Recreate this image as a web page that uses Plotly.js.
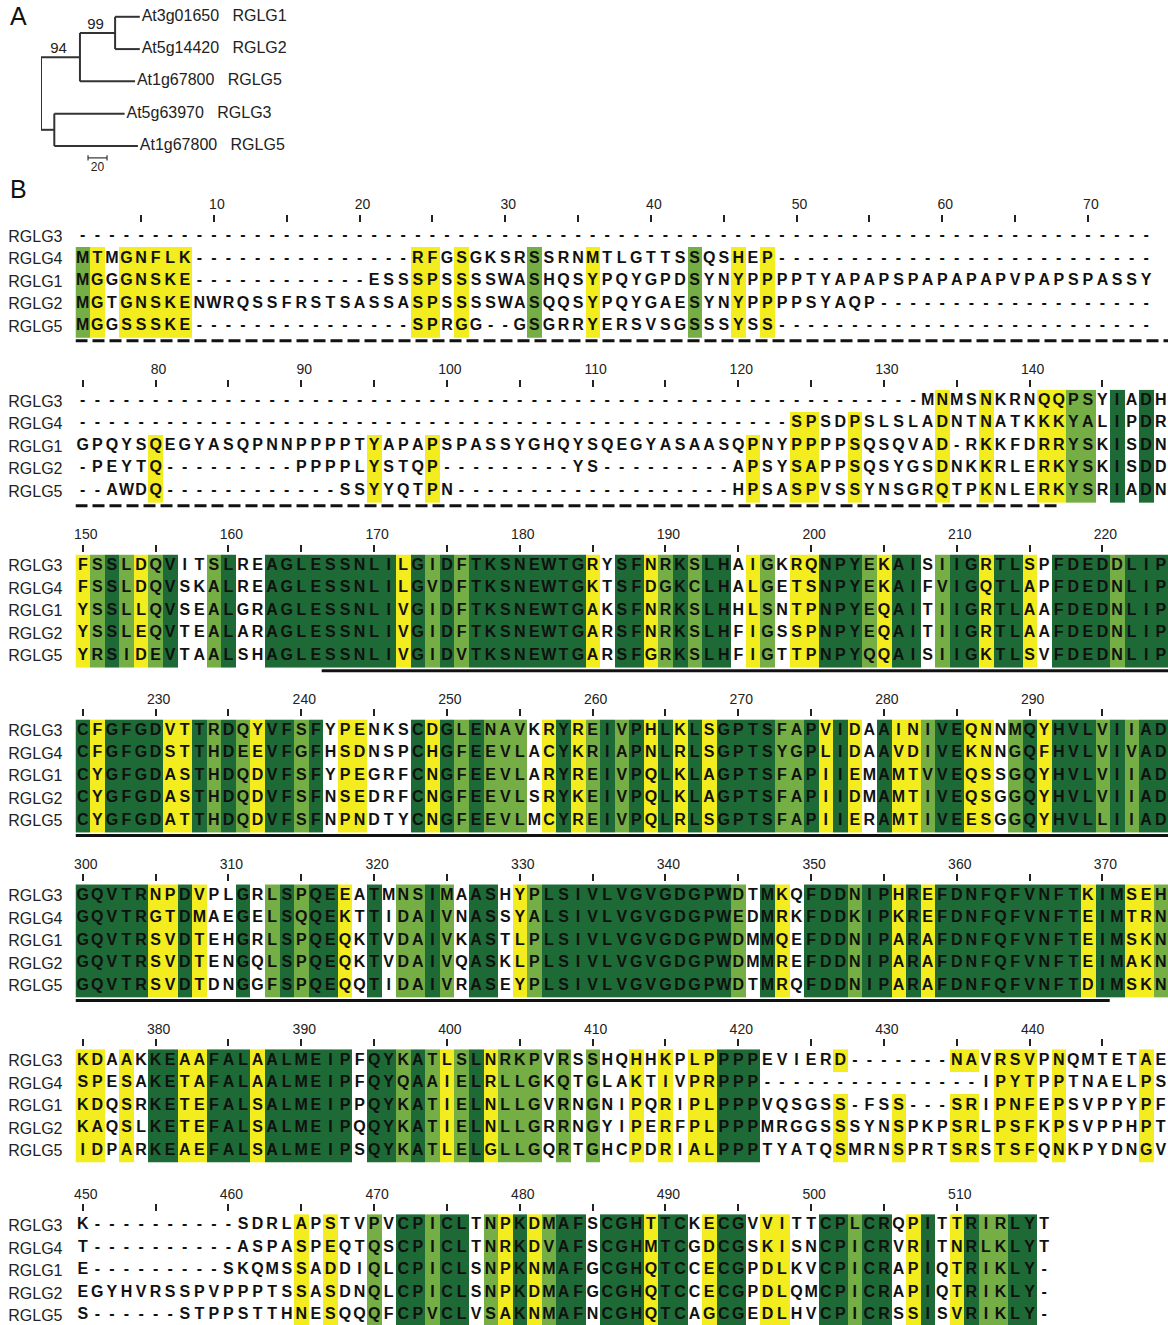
<!DOCTYPE html>
<html><head><meta charset="utf-8">
<script src="https://cdn.plot.ly/plotly-3.0.1.min.js"></script>
<style>html,body{margin:0;padding:0;background:#fff}#chart{width:1168px;height:1325px}</style>
</head><body><div id="chart"></div>
<script>
// ---------------- DATA ----------------
const seqNames = ["RGLG3", "RGLG4", "RGLG1", "RGLG2", "RGLG5"];
const blockStarts = [1, 75, 150, 225, 300, 375, 450];
const lastNumberedPos = 510;

const block1 = [
  "--------------------------------------------------------------------------",
  "MTMGNFLK---------------RFGSGKSRSSRNMTLGTTSSQSHEP--------------------------",
  "MGGGNSKE------------ESSSPSSSSWASHQSYPQYGPDSYNYPPPPTYAPAPSPAPAPAPVPAPSPASSY",
  "MGTGNSKENWRQSSFRSTSASSASPSSSSWASQQSYPQYGAESYNYPPPPSYAQP-------------------",
  "MGGSSSKE---------------SPRGG--GSGRRYERSVSGSSSYSS--------------------------"
];
const block2 = [
  "----------------------------------------------------------MNMSNKRNQQPSYIADH",
  "-------------------------------------------------SPSDPSLSLADNTNATKKKYALIPDR",
  "GPQYSQEGYASQPNNPPPPTYAPAPSPASSYGHQYSQEGYASAASQPNYPPPPSQSQVAD-RKKFDRRYSKISDN",
  "-PEYTQ---------PPPPLYSTQP---------YS---------APSYSAPPSQSYGSDNKKRLERKYSKISDD",
  "--AWDQ------------SSYYQTPN-------------------HPSASPVSSYNSGRQTPKNLERKYSRIADN"
];
const block3 = [
  "FSSLDQVITSLREAGLESSNLILGIDFTKSNEWTGRYSFNRKSLHAIGKRQNPYEKAISIIGRTLSPFDEDDLIP",
  "FSSLDQVSKALREAGLESSNLILGVDFTKSNEWTGKTSFDGKCLHALGETSNPYEKAIFVIGQTLAPFDEDNLIP",
  "YSSLLQVSEALGRAGLESSNLIVGIDFTKSNEWTGAKSFNRKSLHHLSNTPNPYEQAITIIGRTLAAFDEDNLIP",
  "YSSLEQVTEALARAGLESSNLIVGIDFTKSNEWTGARSFNRKSLHFIGSSPNPYEQAITIIGRTLAAFDEDNLIP",
  "YRSIDEVTAALSHAGLESSNLIVGIDVTKSNEWTGARSFGRKSLHFIGTTPNPYQQAISIIGKTLSVFDEDNLIP"
];
const block4 = [
  "CFGFGDVTTRDQYVFSFYPENKSCDGLENAVKRYREIVPHLKLSGPTSFAPVIDAAINIVEQNNMQYHVLVIIAD",
  "CFGFGDSTTHDEEVFGFHSDNSPCHGFEEVLACYKRIAPNLRLSGPTSYGPLIDAAVDIVEKNNGQFHVLVIVAD",
  "CYGFGDASTHDQDVFSFYPEGRFCNGFEEVLARYREIVPQLKLAGPTSFAPIIEMAMTVVEQSSGQYHVLVIIAD",
  "CYGFGDASTHDQDVFSFNSEDRFCNGFEEVLSRYKEIVPQLKLAGPTSFAPIIDMAMTIVEQSGGQYHVLVIIAD",
  "CYGFGDATTHDQDVFSFNPNDTYCNGFEEVLMCYREIVPQLRLSGPTSFAPIIERAMTIVEESGGQYHVLLIIAD"
];
const block5 = [
  "GQVTRNPDVPLGRLSPQEEATMNSIMAASHYPLSIVLVGVGDGPWDTMKQFDDNIPHREFDNFQFVNFTKIMSEH",
  "GQVTRGTDMAEGELSQQEKTTIDAIVNASSYALSIVLVGVGDGPWEDMRKFDDKIPKREFDNFQFVNFTEIMTRN",
  "GQVTRSVDTEHGRLSPQEQKTVDAIVKASTLPLSIVLVGVGDGPWDMMQEFDDNIPARAFDNFQFVNFTEIMSKN",
  "GQVTRSVDTENGQLSPQEQKTVDAIVQASKLPLSIVLVGVGDGPWDMMREFDDNIPARAFDNFQFVNFTEIMAKN",
  "GQVTRSVDTDNGGFSPQEQQTIDAIVRASEYPLSIVLVGVGDGPWDTMRQFDDNIPARAFDNFQFVNFTDIMSKN"
];
const block6 = [
  "KDAAKKEAAFALAALMEIPFQYKATLSLNRKPVRSSHQHHKPLPPPPEVIERD-------NAVRSVPNQMTETAE",
  "SPESAKETAFALAALMEIPFQYQAAIELRLLGKQTGLAKTIVPRPPP---------------IPYTPPTNAELPS",
  "KDQSRKETEFALSALMEIPPQYKATIELNLLGVRNGNIPQRIPLPPPVQSGSS-FSS---SRIPNFEPSVPPYPF",
  "KAQSLKETEFALSALMEIPQQYKATIELNLLGRRNGYIPERFPLPPPMRGGSSSYNSPKPSRLPSFKPSVPPHPT",
  "IDPARKEAEFALSALMEIPSQYKATLELGLLGQRTGHCPDRIALPPPTYATQSMRNSPRTSRSTSFQNKPYDNGV"
];
const block7 = [
  "K----------SDRLAPSTVPVCPICLTNPKDMAFSCGHTTCKECGVVITTCPLCRQPITTRIRLYT",
  "T----------ASPASPEQTQSCPICLTNRKDVAFSCGHMTCGDCGSKISNCPICRVRITNRLKLYT",
  "E---------SKQMSSADDIQLCPICLSNPKNMAFGCGHQTCCECGPDLKVCPICRAPIQTRIKLY-",
  "EGYHVRSSPVPPPTSSASDNQLCPICLSNPKDMAFGCGHQTCCECGPDLQMCPICRAPIQTRIKLY-",
  "S------STPPSTTHNESQQQFCPVCLVSAKNMAFNCGHQTCAGCGEDLHVCPICRSSISVRIKLY-"
];

// conservation class per alignment column, in groups of ten columns:
// y = yellow, g = light green, D = dark green, . = none
const blockColors = [
  "gy.yyyyy.. .......... ...yy.y... .g...y.... ..g..y.y.. .......... .......... .....",
  ".....y.... .......... y...y..... .......... ......y..y y..y.....y ..y...yygg .D.D.",
  "ygDgygD..g D..DDDDDDD DDyDgDgDDD DDDDDy.DDy gDgDD.yg.y yDDDgyDD.g DDyDDy.DDD DgDDD",
  "DyDDDDyyDg DgyDDgD.yy ...DyDgDgg g.yDygDgDy DyDyDDDDgg DyDy.DyygD Dyy.gDyDDD gDgDD",
  "DDDDDyyDy. .D.gDgDDy. D.ggDg.DD. ygDDDDDDDD DDDDDg.Dy. DDDgDDyDyD DDDDDDDDDy DDyyg",
  "yy.y.DDyyD DDyDDDDDD. DDgDgygDyg gg.g.g..y. y.yyDDD... ..y...y... yy.yyy.y.. ...y.",
  ".......... .....y.y.. g.DDgDD.gy DygDD.DDDy DD.yDD.yy. .DDgDD.yD. yDggDD.... ....."
];

// annotation bars under the blocks (alignment positions)
const underlineBlock  = [1, 2, 3, 4, 5];
const underlineFrom   = [0.5, 74.5, 166.4, 224.5, 299.5];
const underlineTo     = [75.5, 142, 224.5, 299.5, 370.5];
const underlineDashed = [true, true, false, false, false];

// phylogenetic tree (panel A)
const treeNodeIds    = ["root", "n1", "n2", "n3", "leaf1", "leaf2", "leaf3", "leaf4", "leaf5"];
const treeNodeParent = ["", "root", "n1", "root", "n2", "n2", "n1", "n3", "n3"];
const treeNodeDepth  = [0, 41, 78, 14, 104, 104, 99, 88, 102];
const treeLeafLabel  = ["", "", "", "", "At3g01650\u00a0\u00a0\u00a0RGLG1", "At5g14420\u00a0\u00a0\u00a0RGLG2",
                        "At1g67800\u00a0\u00a0\u00a0RGLG5", "At5g63970\u00a0\u00a0\u00a0RGLG3", "At1g67800\u00a0\u00a0\u00a0RGLG5"];
const treeBootstrap  = ["", "94", "99", "", "", "", "", "", ""];
const scaleBarLength = 20;
const scaleBarLabel  = "20";

// ---------------- LAYOUT CONSTANTS ----------------
const FIG_W = 1168, FIG_H = 1325;
const LEFT = 75.5, ROW_H = 22.5, TOP0 = 224.75, BLOCK_STEP = 164.9;
const YELLOW = "#f3ec1e", LGREEN = "#74ae45", DGREEN = "#1d6a36";
const SEQ_FONT = {family: "Liberation Sans Narrow, Arial Narrow, Liberation Sans, Arial, sans-serif", size: 16, color: "#111", weight: "bold"};
const LABEL_FONT = {family: "Liberation Sans, Arial, sans-serif", size: 16, color: "#222"};
const NUM_FONT = {family: "Liberation Sans, Arial, sans-serif", size: 14, color: "#222"};
const TREE_FONT = {family: "Liberation Sans, Arial, sans-serif", size: 16, color: "#222"};

const blocks = [block1, block2, block3, block4, block5, block6, block7];
const colorCols = blockColors.map(s => s.replace(/ /g, ""));
const traces = [];
const layout = {
  width: FIG_W, height: FIG_H, margin: {l: 0, r: 0, t: 0, b: 0},
  paper_bgcolor: "#fff", plot_bgcolor: "rgba(0,0,0,0)", showlegend: false,
  annotations: [
    {text: "A", xref: "paper", yref: "paper", x: 8 / FIG_W, y: 1 - 16 / FIG_H, xanchor: "left", yanchor: "middle", showarrow: false, font: {family: "Liberation Sans, Arial, sans-serif", size: 25, color: "#111"}},
    {text: "B", xref: "paper", yref: "paper", x: 8 / FIG_W, y: 1 - 189 / FIG_H, xanchor: "left", yanchor: "middle", showarrow: false, font: {family: "Liberation Sans, Arial, sans-serif", size: 25, color: "#111"}}
  ]
};
const classValue = {y: 1, g: 2, D: 3};

blocks.forEach((rows, b) => {
  const k = b + 1;
  const xa = k === 1 ? "x" : "x" + k;
  const ya = k === 1 ? "y" : "y" + k;
  const start = blockStarts[b];
  const xs = Array.from({length: 75}, (_, c) => start + c);
  const z = rows.map(r => xs.map((_, c) => {
    const ch = r[c];
    if (!ch || ch === "-") return null;
    const v = classValue[colorCols[b][c]];
    return v === undefined ? null : v;
  }));
  traces.push({
    type: "heatmap", x: xs, y: seqNames.map((_, i) => i), z: z, xaxis: xa, yaxis: ya,
    zmin: 1, zmax: 3, showscale: false, hoverinfo: "skip",
    colorscale: [[0, YELLOW], [0.3333, YELLOW], [0.3334, LGREEN], [0.6666, LGREEN], [0.6667, DGREEN], [1, DGREEN]]
  });
  const tx = [], ty = [], tt = [];
  rows.forEach((r, ri) => { for (let c = 0; c < r.length; c++) { tx.push(start + c); ty.push(ri); tt.push(r[c]); } });
  traces.push({type: "scatter", mode: "text", x: tx, y: ty, text: tt, textposition: "middle center",
    textfont: SEQ_FONT, xaxis: xa, yaxis: ya, hoverinfo: "skip", cliponaxis: false});

  const top = TOP0 + b * BLOCK_STEP;
  const bottomPx = Math.min(top + 5.3 * ROW_H, FIG_H);
  const yBottom = -0.5 + (bottomPx - top) / ROW_H;
  const lastPos = Math.min(start + rows[0].length - 1, lastNumberedPos);
  const tv = [], tl = [];
  for (let p = Math.ceil(start / 5) * 5; p <= lastPos; p += 5) { tv.push(p); tl.push(p % 10 === 0 ? String(p) : ""); }
  layout[k === 1 ? "xaxis" : "xaxis" + k] = {
    domain: [LEFT / FIG_W, 1], range: [start - 0.5, start + 74.5], side: "top", anchor: "free",
    position: 1 - (top - 3) / FIG_H, showgrid: false, zeroline: false, showline: false,
    tickmode: "array", tickvals: tv, ticktext: tl, ticks: "outside", ticklen: 7, tickwidth: 2,
    tickcolor: "#222", tickfont: NUM_FONT, ticklabelshift: 3, fixedrange: true
  };
  layout[k === 1 ? "yaxis" : "yaxis" + k] = {
    domain: [1 - bottomPx / FIG_H, 1 - top / FIG_H], range: [yBottom, -0.5], anchor: xa,
    showgrid: false, zeroline: false, showline: false, tickmode: "array",
    tickvals: seqNames.map((_, i) => i), ticktext: seqNames, ticks: "", tickfont: LABEL_FONT,
    ticklabelstandoff: 12, fixedrange: true
  };
});

// underline bars
underlineBlock.forEach((blk, i) => {
  const xa = blk === 1 ? "x" : "x" + blk;
  const ya = blk === 1 ? "y" : "y" + blk;
  traces.push({type: "scatter", mode: "lines", x: [underlineFrom[i], underlineTo[i]], y: [4.66, 4.66],
    xaxis: xa, yaxis: ya, hoverinfo: "skip",
    line: {color: "#111", width: 3, dash: underlineDashed[i] ? "12px,5px" : "solid"}});
});

// ---------------- TREE ----------------
const idx = {}; treeNodeIds.forEach((id, i) => idx[id] = i);
const children = treeNodeIds.map(() => []);
treeNodeParent.forEach((p, i) => { if (p) children[idx[p]].push(i); });
const nodeY = new Array(treeNodeIds.length);
let leafOrder = 0;
treeNodeIds.forEach((_, i) => { if (children[i].length === 0) nodeY[i] = leafOrder++; });
for (let pass = 0; pass < 4; pass++) {
  for (let i = treeNodeIds.length - 1; i >= 0; i--) {
    if (children[i].length) { const ys = children[i].map(c => nodeY[c]); nodeY[i] = (Math.min(...ys) + Math.max(...ys)) / 2; }
  }
}
const segX = [], segY = [];
treeNodeIds.forEach((_, i) => {
  const p = treeNodeParent[i];
  if (p) { segX.push(treeNodeDepth[idx[p]], treeNodeDepth[i], null); segY.push(nodeY[i], nodeY[i], null); }
  if (children[i].length) {
    const ys = children[i].map(c => nodeY[c]);
    segX.push(treeNodeDepth[i], treeNodeDepth[i], null); segY.push(Math.min(...ys), Math.max(...ys), null);
  }
});
traces.push({type: "scatter", mode: "lines", x: segX, y: segY, xaxis: "x8", yaxis: "y8", hoverinfo: "skip",
  line: {color: "#333", width: 2}});
const leafIdx = treeNodeIds.map((_, i) => i).filter(i => children[i].length === 0);
traces.push({type: "scatter", mode: "text", x: leafIdx.map(i => treeNodeDepth[i] + 2), y: leafIdx.map(i => nodeY[i]),
  text: leafIdx.map(i => treeLeafLabel[i]), textposition: "middle right", cliponaxis: false,
  textfont: TREE_FONT, xaxis: "x8", yaxis: "y8", hoverinfo: "skip"});
const bsIdx = treeNodeIds.map((_, i) => i).filter(i => treeBootstrap[i]);
traces.push({type: "scatter", mode: "text",
  x: bsIdx.map(i => (treeNodeDepth[i] + treeNodeDepth[idx[treeNodeParent[i]]]) / 2 - 2), y: bsIdx.map(i => nodeY[i] - 0.02),
  text: bsIdx.map(i => treeBootstrap[i]), textposition: "top center", cliponaxis: false,
  textfont: {family: "Liberation Sans, Arial, sans-serif", size: 15, color: "#222"}, xaxis: "x8", yaxis: "y8", hoverinfo: "skip"});
// scale bar
const sbX0 = 49.5, sbY = 4.37;
traces.push({type: "scatter", mode: "lines",
  x: [sbX0, sbX0 + scaleBarLength, null, sbX0, sbX0, null, sbX0 + scaleBarLength, sbX0 + scaleBarLength],
  y: [sbY, sbY, null, sbY - 0.08, sbY + 0.08, null, sbY - 0.08, sbY + 0.08],
  xaxis: "x8", yaxis: "y8", hoverinfo: "skip", line: {color: "#333", width: 1.2}});
traces.push({type: "scatter", mode: "text", x: [sbX0 + scaleBarLength / 2], y: [sbY + 0.12], text: [scaleBarLabel],
  textposition: "bottom center", cliponaxis: false, textfont: {family: "Liberation Sans, Arial, sans-serif", size: 12, color: "#222"},
  xaxis: "x8", yaxis: "y8", hoverinfo: "skip"});
layout.xaxis8 = {domain: [41 / FIG_W, 231 / FIG_W], range: [0, 200], visible: false, fixedrange: true, anchor: "y8"};
layout.yaxis8 = {domain: [1 - 175 / FIG_H, 1], range: [4.9, -0.52], visible: false, fixedrange: true, anchor: "x8"};

Plotly.newPlot("chart", traces, layout, {staticPlot: true, displayModeBar: false});
</script>
</body></html>
